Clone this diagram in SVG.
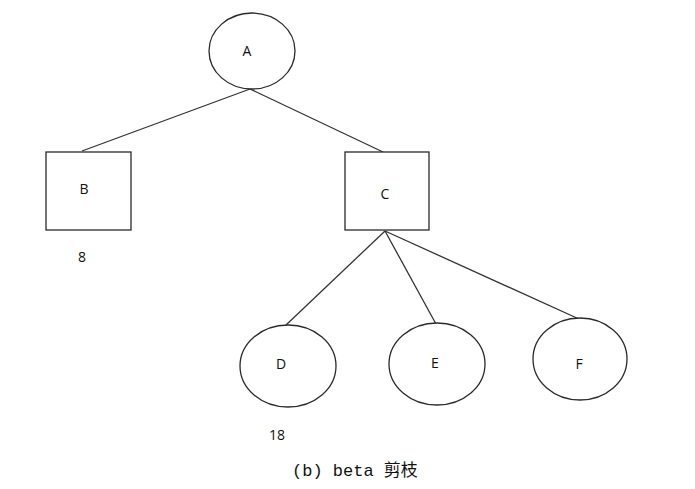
<svg xmlns="http://www.w3.org/2000/svg" width="695" height="489" viewBox="0 0 695 489">
<style>
.n{fill:#fff;stroke:#2a2a2a;stroke-width:1.3}
.e{stroke:#333;stroke-width:1.3;fill:none}
.t{font-family:"Open Sans","Liberation Sans",sans-serif;font-size:14px;fill:#111;text-anchor:middle;dominant-baseline:central}
.cap{font-family:"Liberation Mono","Noto Sans CJK SC",monospace;font-size:17px;fill:#111}
</style>
<rect width="695" height="489" fill="#fff"/>
<g id="connectors">
<line class="e" x1="250" y1="89" x2="82" y2="151"/>
<line class="e" x1="250" y1="89" x2="383" y2="152"/>
<line class="e" x1="385" y1="231" x2="286" y2="325"/>
<line class="e" x1="385" y1="231" x2="436" y2="324"/>
<line class="e" x1="385" y1="231" x2="579" y2="319"/>
</g>
<g id="A"><ellipse class="n" cx="252" cy="51" rx="43" ry="38"/><text class="t" x="247" y="50">A</text></g>
<g id="B"><rect class="n" x="46" y="152" width="85" height="78"/><text class="t" x="84" y="188">B</text><text class="t" x="82" y="256">8</text></g>
<g id="C"><rect class="n" x="345" y="152" width="84" height="78"/><text class="t" x="385" y="193">C</text></g>
<g id="D"><ellipse class="n" cx="288" cy="366" rx="48" ry="41"/><text class="t" x="281" y="363">D</text><text class="t" x="277" y="434">18</text></g>
<g id="E"><ellipse class="n" cx="437" cy="364" rx="48" ry="41"/><text class="t" x="435" y="362">E</text></g>
<g id="F"><ellipse class="n" cx="580" cy="359" rx="47" ry="41"/><text class="t" x="579" y="363">F</text></g>
<text class="cap" x="292" y="476">(b) beta 剪枝</text>
</svg>
